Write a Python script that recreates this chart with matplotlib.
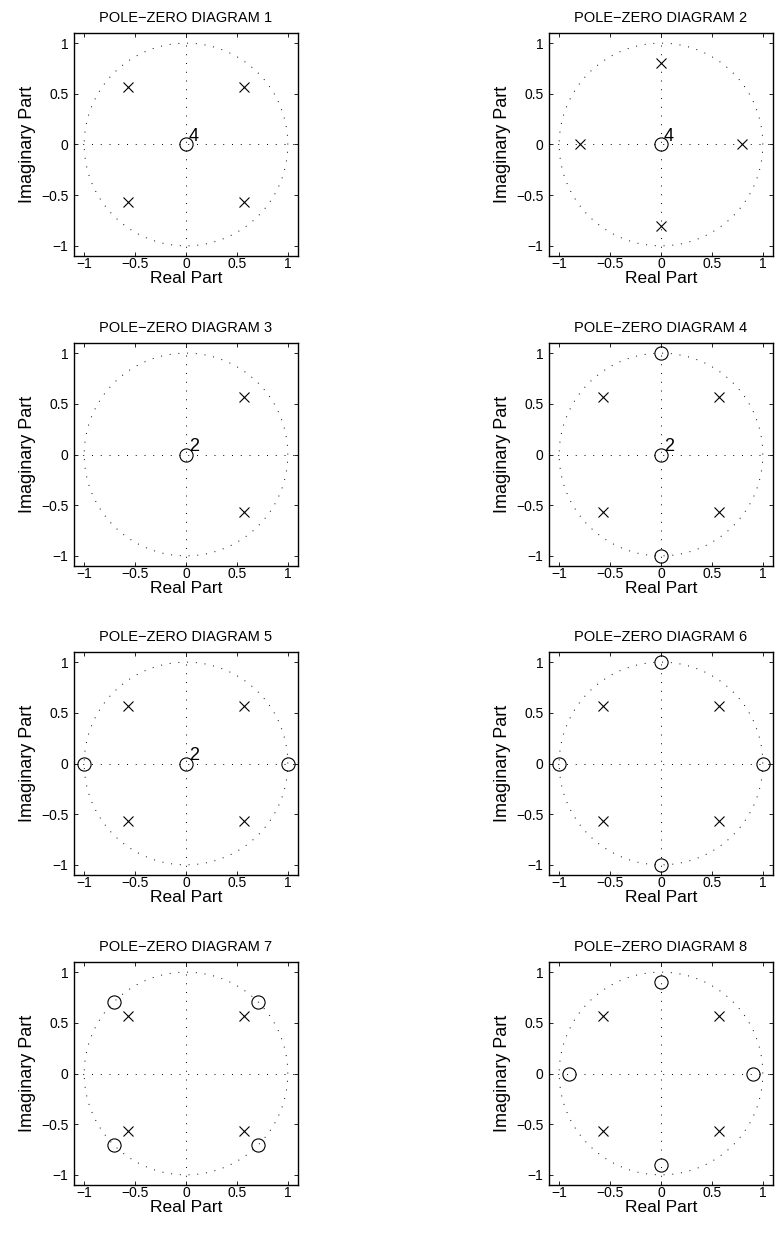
import numpy as np
import matplotlib
matplotlib.use("Agg")
import matplotlib.pyplot as plt

plt.rcParams['font.family'] = ['Liberation Sans', 'DejaVu Sans']

r = 0.8 * np.cos(np.pi / 4)  # 0.5657

# Poles (x) and zeros (o) for each diagram, as real / imaginary parts
poles_re = [
    [-r, r, -r, r],
    [-0.8, 0.8, 0.0, 0.0],
    [r, r],
    [-r, r, -r, r],
    [-r, r, -r, r],
    [-r, r, -r, r],
    [-r, r, -r, r],
    [-r, r, -r, r],
]
poles_im = [
    [r, r, -r, -r],
    [0.0, 0.0, 0.8, -0.8],
    [r, -r],
    [r, r, -r, -r],
    [r, r, -r, -r],
    [r, r, -r, -r],
    [r, r, -r, -r],
    [r, r, -r, -r],
]
zeros_re = [
    [0.0],
    [0.0],
    [0.0],
    [0.0, 0.0, 0.0],
    [0.0, -1.0, 1.0],
    [0.0, 0.0, -1.0, 1.0],
    [-0.7071, 0.7071, -0.7071, 0.7071],
    [0.0, 0.0, -0.9, 0.9],
]
zeros_im = [
    [0.0],
    [0.0],
    [0.0],
    [0.0, 1.0, -1.0],
    [0.0, 0.0, 0.0],
    [1.0, -1.0, 0.0, 0.0],
    [0.7071, 0.7071, -0.7071, -0.7071],
    [0.9, -0.9, 0.0, 0.0],
]
# multiplicity labels: (diagram index, re, im, text)
mult_labels = [(0, 0.0, 0.0, "4"), (1, 0.0, 0.0, "4"), (2, 0.0, 0.0, "2"),
               (3, 0.0, 0.0, "2"), (4, 0.0, 0.0, "2")]

ticks = [-1, -0.5, 0, 0.5, 1]
tick_labels = ["\u22121", "\u22120.5", "0", "0.5", "1"]

W, H = 777, 1241
fig = plt.figure(figsize=(W / 100, H / 100), dpi=100)

lefts = [74, 549]
tops = [33, 343, 652, 962]
aw, ah = 224, 223

theta = np.linspace(0, 2 * np.pi, 400)
for i in range(8):
    row, col = divmod(i, 2)
    ax = fig.add_axes([lefts[col] / W, 1 - (tops[row] + ah) / H, aw / W, ah / H])
    ax.plot(np.cos(theta), np.sin(theta), color='black', lw=0.7,
            linestyle=(0, (1, 8)))
    ax.plot([-1.1, 1.1], [0, 0], color='black', lw=0.7, linestyle=(0, (1, 8)))
    ax.plot([0, 0], [-1.1, 1.1], color='black', lw=0.7, linestyle=(0, (1, 8)))
    ax.plot(poles_re[i], poles_im[i], linestyle='none', marker='x',
            markersize=7, markeredgewidth=0.8, color='black')
    ax.plot(zeros_re[i], zeros_im[i], linestyle='none', marker='o',
            markersize=9.5, markeredgewidth=0.8, markerfacecolor='none',
            markeredgecolor='black')
    for (k, xr, yi, t) in mult_labels:
        if k == i:
            ax.text(xr + 0.03, yi + 0.035, t, fontsize=13, ha='left',
                    va='baseline')
    ax.set_xlim(-1.1, 1.1)
    ax.set_ylim(-1.1, 1.1)
    ax.set_xticks(ticks)
    ax.set_xticklabels(tick_labels)
    ax.set_yticks(ticks)
    ax.set_yticklabels(tick_labels)
    ax.tick_params(direction='in', top=True, right=True, length=3, width=0.6,
                   labelsize=10)
    ax.tick_params(axis='x', pad=1)
    ax.tick_params(axis='y', pad=4)
    for s in ax.spines.values():
        s.set_linewidth(1.0)
    ax.set_xlabel("Real Part", fontsize=12.5, labelpad=0)
    ax.set_ylabel("Imaginary Part", fontsize=13, labelpad=4)
    ax.set_title("POLE\u2212ZERO DIAGRAM %d" % (i + 1), fontsize=10.5, pad=8)

fig.savefig("out.png", dpi=100)
